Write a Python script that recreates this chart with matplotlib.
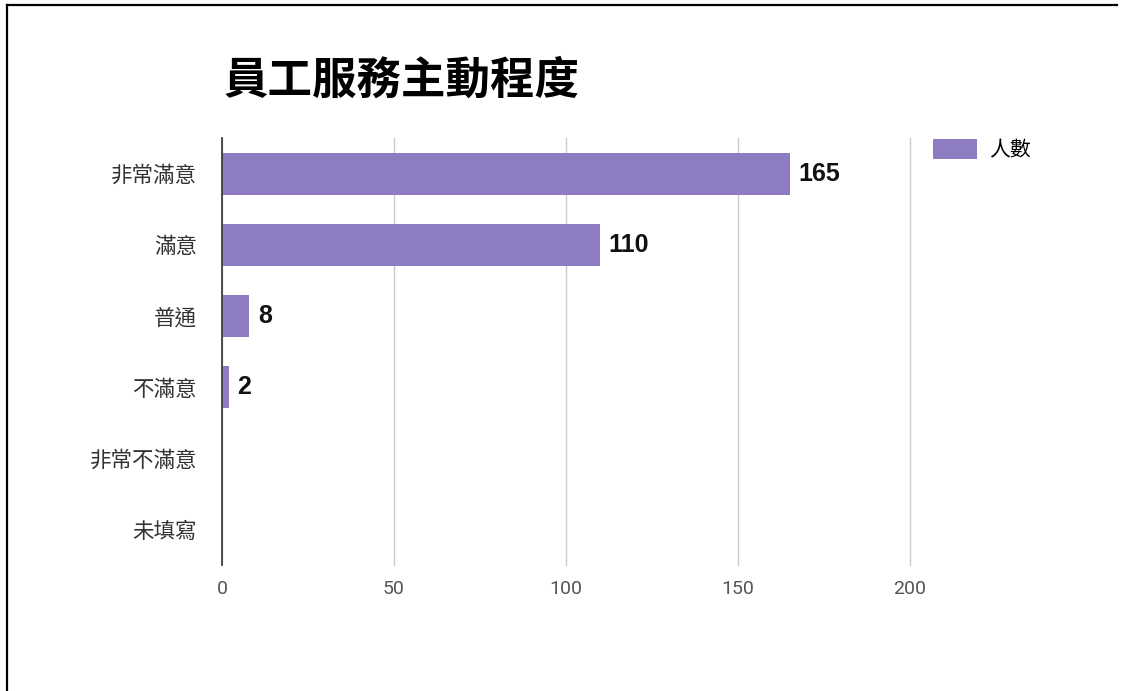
import numpy as np
import matplotlib.pyplot as plt
from matplotlib.lines import Line2D

# Dane wykresu
kategorie = ['非常滿意', '滿意', '普通', '不滿意', '非常不滿意', '未填寫']
liczby = [165, 110, 8, 2, 0, 0]
tytul = '員工服務主動程度'
seria = '人數'
xticks = [0, 50, 100, 150, 200]

plt.rcParams['font.family'] = ['Noto Sans CJK TC', 'DejaVu Sans']

fig = plt.figure(figsize=(11.21, 6.91), dpi=100)
ax = fig.add_axes([0.198, 0.1823, 0.6138, 0.618])

y = np.arange(len(kategorie))
bars = ax.barh(y, liczby, height=0.59, color='#8e7cc3', label=seria, zorder=2)
ax.set_ylim(len(kategorie) - 0.5, -0.5)
ax.set_xlim(0, 200)

etykiety = [str(v) if v > 0 else '' for v in liczby]
ax.bar_label(bars, labels=etykiety, padding=6, fontsize=18, fontweight='bold',
             family='Liberation Sans', color='#111111')

ax.set_yticks(y)
ax.set_yticklabels(kategorie, fontsize=15.5, color='#333333')
ax.set_xticks(xticks)
ax.set_xticklabels([str(t) for t in xticks], fontsize=14, color='#555555',
                   family='Roboto')
ax.tick_params(axis='y', length=0, pad=18)
ax.tick_params(axis='x', length=0, pad=11)

ax.grid(axis='x', color='#cccccc', linewidth=1, zorder=0)
for linia in ax.get_xgridlines():
    linia.set_clip_on(False)
for s in ['top', 'right', 'bottom']:
    ax.spines[s].set_visible(False)
ax.spines['left'].set_color('#333333')
ax.spines['left'].set_linewidth(1.2)
ax.spines['left'].set_zorder(3)

fig.text(224 / 1121, 1 - 81 / 691, tytul, fontsize=32, fontweight='bold',
         va='center', ha='left', color='#000000')

ax.legend(loc='upper left', bbox_to_anchor=(933 / 1121, 1 - 139 / 691),
          bbox_transform=fig.transFigure, frameon=False, fontsize=15,
          handlelength=2.1, handleheight=1.1, borderaxespad=0, borderpad=0,
          handletextpad=0.6)

# Ramka wokół obrazka
fig.add_artist(Line2D([7 / 1121, 7 / 1121], [0, 1 - 5 / 691], color='black',
                      lw=1.6, transform=fig.transFigure))
fig.add_artist(Line2D([7 / 1121, 1117 / 1121], [1 - 5 / 691, 1 - 5 / 691],
                      color='black', lw=1.6, transform=fig.transFigure))

plt.savefig('out.png', dpi=100)
